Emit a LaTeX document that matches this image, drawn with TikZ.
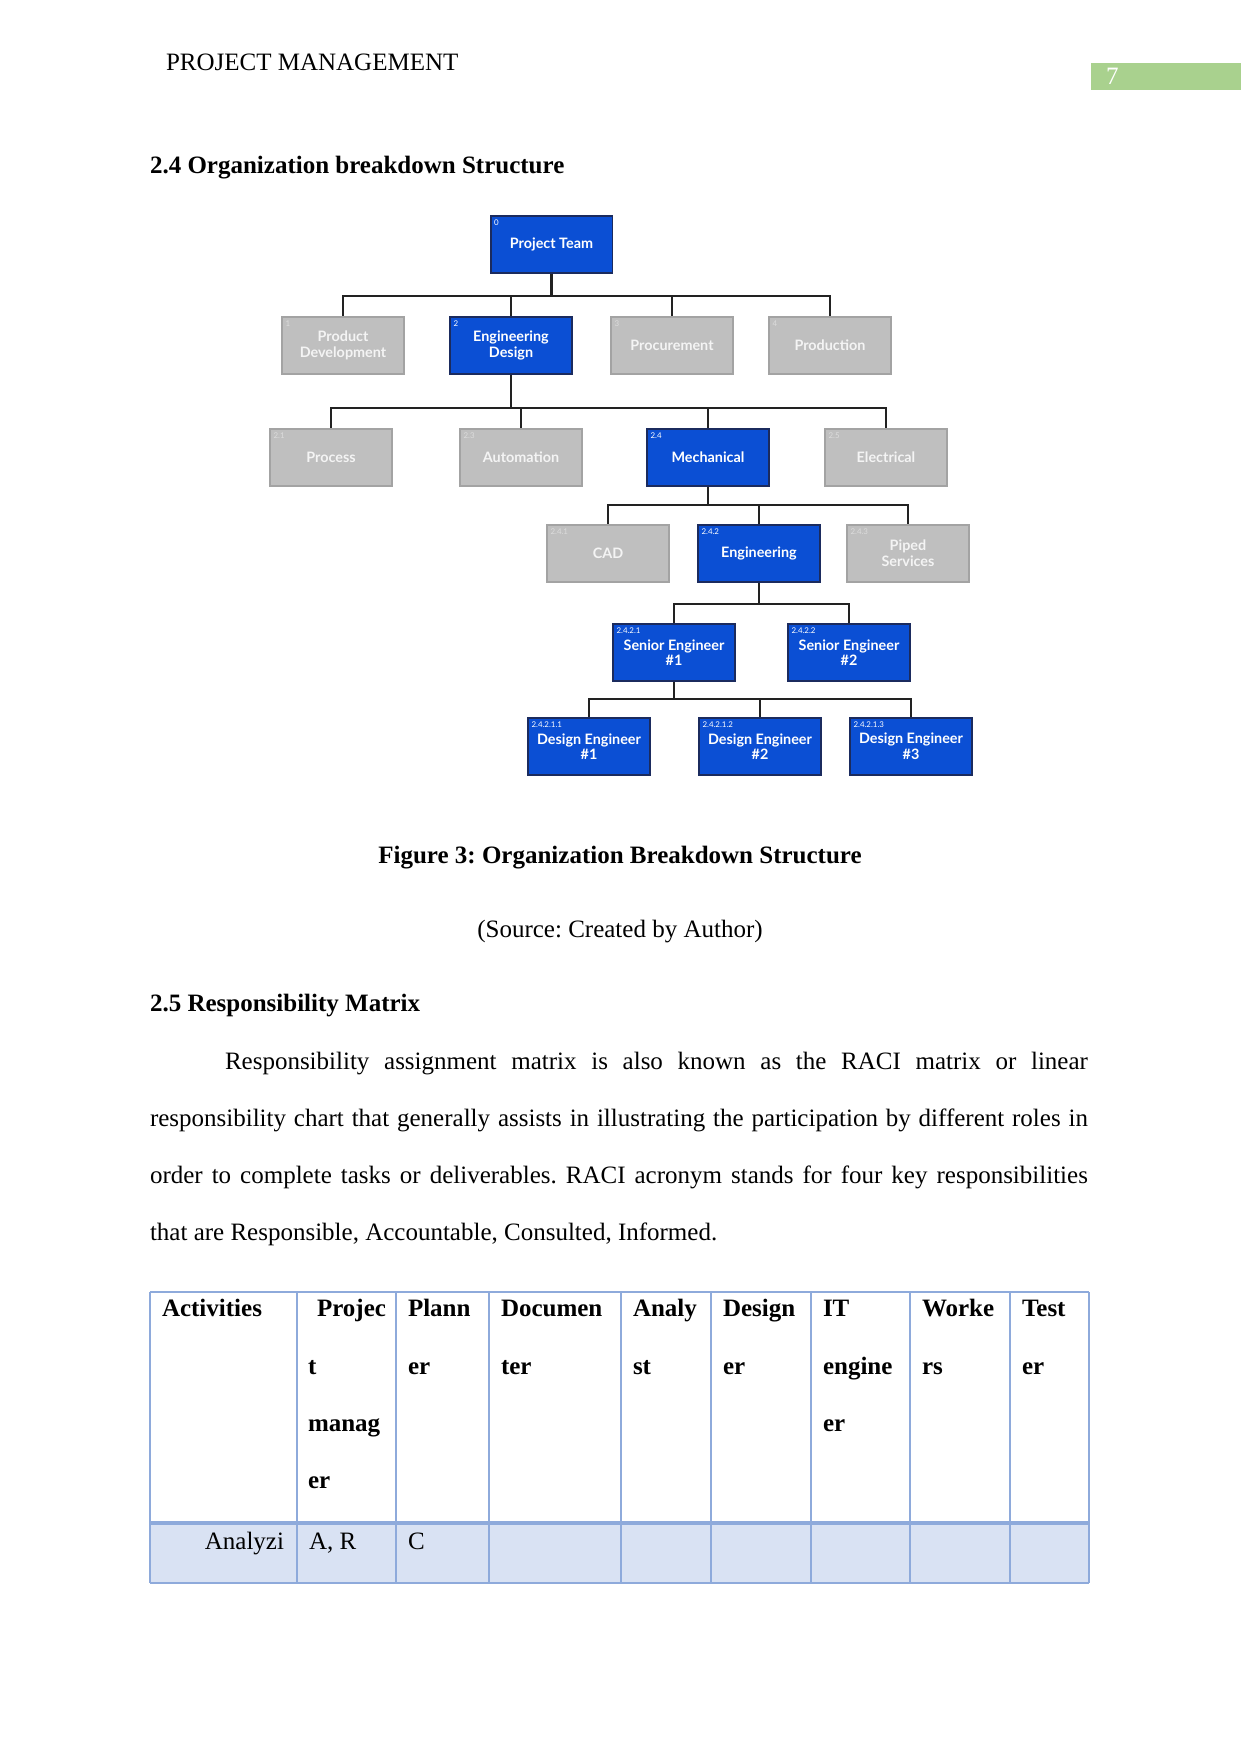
\documentclass[tikz,border=0pt]{standalone}
\usepackage{fontspec}
\setmainfont{Liberation Serif}
\newfontfamily\boxfont{Lato}
\definecolor{obsblue}{HTML}{0B4FD4}
\definecolor{boxedge}{HTML}{1B2B5E}
\definecolor{greyfill}{HTML}{BFBFBF}
\definecolor{greyedge}{HTML}{A3A3A3}
\definecolor{greytext}{HTML}{F4F4F4}
\definecolor{greynum}{HTML}{DCDCDC}
\definecolor{connc}{HTML}{222222}
\definecolor{pagegreen}{HTML}{A9D18E}
\definecolor{tabline}{HTML}{8EAADB}
\definecolor{tabfill}{HTML}{D9E2F3}
\begin{document}
\frenchspacing
\begin{tikzpicture}[x=0.48pt,y=-0.48pt,
  txt/.style={inner sep=0pt, outer sep=0pt, anchor=base west, font=\frenchspacing\fontsize{12}{14}\selectfont},
  btxt/.style={txt, font=\frenchspacing\bfseries\fontsize{12}{14}\selectfont},
  bluebox/.style={draw=boxedge, fill=obsblue, line width=0.9pt, minimum width=58.5pt, minimum height=27.4pt, inner sep=1pt, align=center, text=white, font=\boxfont\bfseries\fontsize{6.9}{7.5}\selectfont},
  greybox/.style={bluebox, draw=greyedge, fill=greyfill, text=greytext},
  num/.style={anchor=north west, inner sep=0pt, font=\boxfont\fontsize{3.8}{4}\selectfont},
  conn/.style={draw=connc, line width=1.1pt}
]
\useasboundingbox (0,0) rectangle (1241,1754);

% page header
\node[txt] (hdr) at (166,70) {PROJECT MANAGEMENT};
\fill[pagegreen] (1091,63) rectangle (1241,90);
\node[txt, text=white] (pgno) at (1106,84) {7};
\node[btxt] (h24) at (150,173) {2.4 Organization breakdown Structure};

% boxes
\node[bluebox] (pt) at (551.5,244.5) {Project Team};
\node[greybox] (pd) at (343,345.5) {Product\\Development};
\node[bluebox] (ed) at (511,345.5) {Engineering\\Design};
\node[greybox] (proc) at (672,345.5) {Procurement};
\node[greybox] (prod) at (830,345.5) {Production};
\node[greybox] (pr) at (331,457.5) {Process};
\node[greybox] (au) at (521,457.5) {Automation};
\node[bluebox] (me) at (708,457.5) {Mechanical};
\node[greybox] (el) at (886,457.5) {Electrical};
\node[greybox] (cad) at (608,553.5) {CAD};
\node[bluebox] (eng) at (759,553.5) {Engineering};
\node[greybox] (ps) at (908,553.5) {Piped\\Services};
\node[bluebox] (se1) at (674,652.5) {Senior Engineer\\\#1};
\node[bluebox] (se2) at (849,652.5) {Senior Engineer\\\#2};
\node[bluebox] (de1) at (589,746.5) {Design Engineer\\\#1};
\node[bluebox] (de2) at (760,746.5) {Design Engineer\\\#2};
\node[bluebox] (de3) at (911,746.5) {Design Engineer\\\#3};

% numbers
\foreach \n/\t in {pt/0,ed/2,me/2.4,eng/2.4.2,se1/2.4.2.1,se2/2.4.2.2,de1/2.4.2.1.1,de2/2.4.2.1.2,de3/2.4.2.1.3}
  \node[num, text=white] at ([shift={(4,4)}]\n.north west) {\t};
\foreach \n/\t in {pd/1,proc/3,prod/4,pr/2.1,au/2.3,el/2.5,cad/2.4.1,ps/2.4.3}
  \node[num, text=greynum] at ([shift={(4,4)}]\n.north west) {\t};

% connectors
\foreach \c in {pd,ed,proc,prod} \draw[conn] (pt.south) -- ++(0,22) -| (\c.north);
\foreach \c in {pr,au,me,el} \draw[conn] (ed.south) -- ++(0,33) -| (\c.north);
\foreach \c in {cad,eng,ps} \draw[conn] (me.south) -- ++(0,18) -| (\c.north);
\foreach \c in {se1,se2} \draw[conn] (eng.south) -- ++(0,21) -| (\c.north);
\foreach \c in {de1,de2,de3} \draw[conn] (se1.south) -- ++(0,17) -| (\c.north);

% captions
\node[btxt, anchor=base] (cap) at (620,863) {Figure 3: Organization Breakdown Structure};
\node[txt, anchor=base] (src) at (620,937) {(Source: Created by Author)};
\node[btxt] (h25) at (150,1011) {2.5 Responsibility Matrix};

% paragraph
\node[txt] (p1) at (225,1069) {\makebox[414.2pt][s]{Responsibility assignment matrix is also known as the RACI matrix or linear}};
\node[txt] (p2) at (150,1126) {\makebox[450.2pt][s]{responsibility chart that generally assists in illustrating the participation by different roles in}};
\node[txt] (p3) at (150,1183) {\makebox[450.2pt][s]{order to complete tasks or deliverables. RACI acronym stands for four key responsibilities}};
\node[txt] (p4) at (150,1240) {that are Responsible, Accountable, Consulted, Informed.};

% table
\fill[tabfill] (150,1523) rectangle (1089,1583);
\foreach \x in {150,297,396,489,621,711,811,910,1010,1089}
  \draw[tabline, line width=0.6pt] (\x,1292) -- (\x,1583);
\draw[tabline, line width=0.6pt] (150,1292) -- (1089,1292);
\draw[tabline, line width=0.6pt] (150,1583) -- (1089,1583);
\draw[tabline, line width=1.6pt] (150,1523) -- (1089,1523);

\node[btxt] (c1) at (162,1316) {Activities};
\node[btxt] (c2a) at (317,1316) {Projec};
\node[btxt] (c2b) at (308,1374) {t};
\node[btxt] (c2c) at (308,1431) {manag};
\node[btxt] (c2d) at (308,1488) {er};
\node[btxt] (c3a) at (408,1316) {Plann};
\node[btxt] (c3b) at (408,1374) {er};
\node[btxt] (c4a) at (501,1316) {Documen};
\node[btxt] (c4b) at (501,1374) {ter};
\node[btxt] (c5a) at (633,1316) {Analy};
\node[btxt] (c5b) at (633,1374) {st};
\node[btxt] (c6a) at (723,1316) {Design};
\node[btxt] (c6b) at (723,1374) {er};
\node[btxt] (c7a) at (823,1316) {IT};
\node[btxt] (c7b) at (823,1374) {engine};
\node[btxt] (c7c) at (823,1431) {er};
\node[btxt] (c8a) at (922,1316) {Worke};
\node[btxt] (c8b) at (922,1374) {rs};
\node[btxt] (c9a) at (1022,1316) {Test};
\node[btxt] (c9b) at (1022,1374) {er};

\node[txt, anchor=base east] (d1) at (284,1549) {Analyzi};
\node[txt] (d2) at (309,1549) {A, R};
\node[txt] (d3) at (408,1549) {C};
\end{tikzpicture}
\end{document}
